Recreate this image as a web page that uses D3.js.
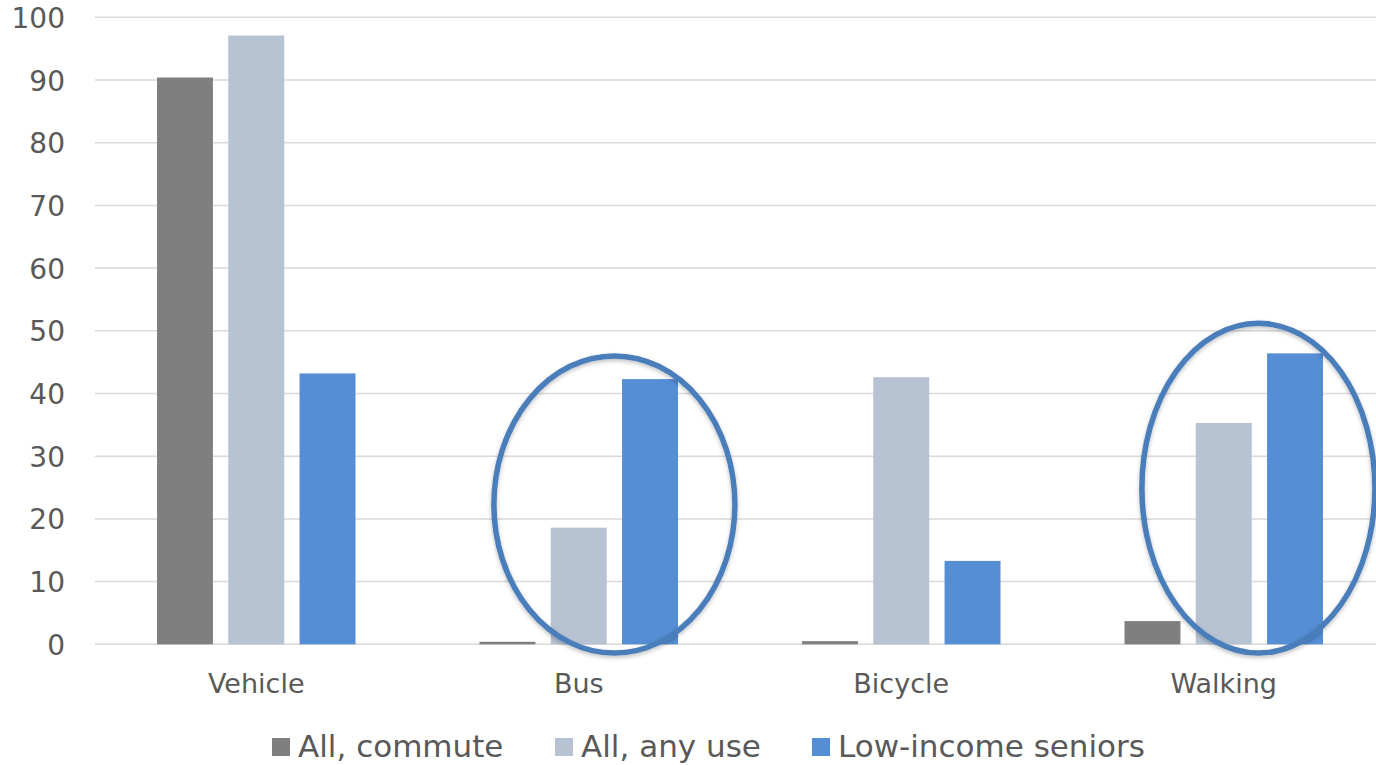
<!DOCTYPE html>
<html>
<head>
<meta charset="utf-8">
<script src="https://cdn.jsdelivr.net/npm/d3@7"></script>
<style>
  html, body { margin: 0; padding: 0; background: #fff; }
  svg { display: block; }
  text { font-family: "DejaVu Sans", sans-serif; fill: #595959; }
</style>
</head>
<body>
<svg id="chart" width="1376" height="765"></svg>
<script>
// ---- Data ----
const categories = ["Vehicle", "Bus", "Bicycle", "Walking"];
const seriesNames = ["All, commute", "All, any use", "Low-income seniors"];
const allCommute = [90.4, 0.4, 0.5, 3.7];
const allAnyUse = [97.1, 18.6, 42.6, 35.3];
const lowIncomeSeniors = [43.2, 42.3, 13.3, 46.4];
const yTicks = [0, 10, 20, 30, 40, 50, 60, 70, 80, 90, 100];
const highlighted = ["Bus", "Walking"];

const seriesValues = [allCommute, allAnyUse, lowIncomeSeniors];
const colors = ["#7f7f7f", "#b7c3d3", "#558ed5"];

const svg = d3.select("#chart");

const x0 = d3.scaleBand().domain(categories).range([95, 1385]).paddingInner(0).paddingOuter(0);
const groupPad = 62;
const x1 = d3.scaleBand().domain(seriesNames)
  .range([groupPad, x0.bandwidth() - groupPad]).paddingInner(0.215).paddingOuter(0);
const y = d3.scaleLinear().domain([0, 100]).range([644.3, 17.3]);

// gridlines
svg.append("g").selectAll("line").data(yTicks).join("line")
  .attr("x1", 95).attr("x2", 1376)
  .attr("y1", d => y(d)).attr("y2", d => y(d))
  .attr("stroke", "#d9d9d9").attr("stroke-width", 1.5);

// y axis labels
const yAxis = d3.axisLeft(y).tickValues(yTicks).tickSize(0).tickPadding(0);
const gy = svg.append("g").attr("transform", "translate(65,0)").call(yAxis);
gy.select(".domain").remove();
gy.selectAll("text").attr("font-size", 28).attr("dy", "0.36em")
  .style("font-family", '"DejaVu Sans", sans-serif').attr("fill", "#595959");

// x axis labels
const xAxis = d3.axisBottom(x0).tickSize(0).tickPadding(0);
const gx = svg.append("g").attr("transform", "translate(0,693)").call(xAxis);
gx.select(".domain").remove();
gx.selectAll("text").attr("font-size", 27).attr("dy", 0)
  .style("font-family", '"DejaVu Sans", sans-serif').attr("fill", "#595959");

// bars
const rows = categories.map((c, i) => ({ cat: c, vals: seriesNames.map((s, j) => ({ s, j, v: seriesValues[j][i] })) }));
svg.append("g").selectAll("g").data(rows).join("g")
  .attr("transform", d => `translate(${x0(d.cat)},0)`)
  .selectAll("rect").data(d => d.vals).join("rect")
  .attr("x", d => x1(d.s))
  .attr("width", x1.bandwidth())
  .attr("y", d => y(d.v))
  .attr("height", d => y(0) - y(d.v))
  .attr("fill", d => colors[d.j]);

// highlight ellipses
const defs = svg.append("defs");
const f = defs.append("filter").attr("id", "shadow").attr("x", "-20%").attr("y", "-20%").attr("width", "140%").attr("height", "140%");
f.append("feDropShadow").attr("dx", 0).attr("dy", 2).attr("stdDeviation", 2).attr("flood-color", "#000").attr("flood-opacity", 0.25);

const ellipseSpec = { Bus: { top: 46.0, bottom: -1.4, rx: 120.5, shift: 0 }, Walking: { top: 51.2, bottom: -1.4, rx: 116.5, shift: -1 } };
svg.append("g").selectAll("ellipse").data(highlighted).join("ellipse")
  .attr("cx", d => x0(d) + (x1(seriesNames[1]) + x1(seriesNames[2]) + x1.bandwidth()) / 2 + ellipseSpec[d].shift)
  .attr("cy", d => (y(ellipseSpec[d].top) + y(ellipseSpec[d].bottom)) / 2)
  .attr("rx", d => ellipseSpec[d].rx)
  .attr("ry", d => (y(ellipseSpec[d].bottom) - y(ellipseSpec[d].top)) / 2)
  .attr("fill", "none").attr("stroke", "#4a7ebb").attr("stroke-width", 5.5)
  .attr("filter", "url(#shadow)");

// legend
const legendX = [272, 555, 812];
const lg = svg.append("g").selectAll("g").data(seriesNames).join("g")
  .attr("transform", (d, i) => `translate(${legendX[i]},738)`);
lg.append("rect").attr("width", 18).attr("height", 18).attr("fill", (d, i) => colors[i]);
lg.append("text").attr("x", 26).attr("y", 19).attr("font-size", 31).text(d => d);
</script>
</body>
</html>
